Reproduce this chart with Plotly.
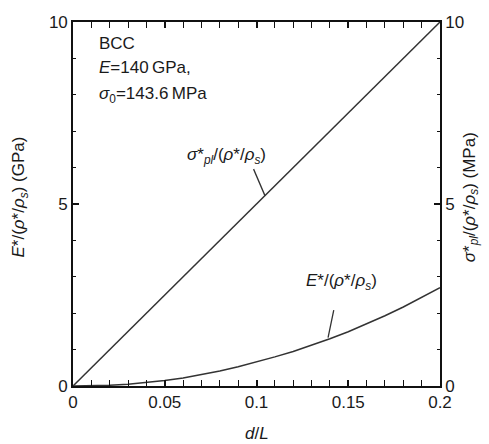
import plotly.graph_objects as go

# relative length of strut
d_over_L = [0.0, 0.01, 0.02, 0.03, 0.04, 0.05, 0.06, 0.07, 0.08, 0.09, 0.10,
            0.11, 0.12, 0.13, 0.14, 0.15, 0.16, 0.17, 0.18, 0.19, 0.20]
# normalised Young's modulus (GPa)
E_norm = [0.0, 0.005, 0.02, 0.05, 0.09, 0.15, 0.22, 0.31, 0.41, 0.53, 0.66,
          0.80, 0.95, 1.12, 1.30, 1.49, 1.70, 1.93, 2.17, 2.43, 2.70]
# normalised plastic collapse strength (MPa)
sigma_x = [0.0, 0.05, 0.10, 0.15, 0.20]
sigma_pl = [0.0, 2.5, 5.0, 7.5, 10.0]

x_tick_step = 0.05
x_minor_step = 0.01
y_tick_step = 5
y_minor_step = 1

FONT = "Arial"
INK = "#1a1a1a"
LINE = "#333333"
AXIS = "#111111"

fig = go.Figure()
fig.add_trace(go.Scatter(x=d_over_L, y=E_norm, mode="lines",
                         line=dict(color=LINE, width=1.5),
                         yaxis="y"))
fig.add_trace(go.Scatter(x=sigma_x, y=sigma_pl, mode="lines",
                         line=dict(color=LINE, width=1.5),
                         yaxis="y2"))


def axis_style(step, minor_step, **extra):
    return dict(tickmode="linear", tick0=0, dtick=step,
                ticks="inside", ticklen=6, tickwidth=1.6, tickcolor=AXIS,
                minor=dict(tickmode="linear", tick0=0, dtick=minor_step,
                           ticks="inside", ticklen=3, tickwidth=1.3, tickcolor=AXIS),
                showline=True, linecolor=AXIS, linewidth=1.6,
                showgrid=False, zeroline=False,
                **extra)


fig.update_layout(
    width=489, height=444,
    margin=dict(l=73, r=49, t=22, b=58),
    paper_bgcolor="white", plot_bgcolor="white",
    showlegend=False,
    font=dict(family=FONT, size=17, color=INK),
    xaxis=axis_style(x_tick_step, x_minor_step, range=[0, 0.2], mirror="allticks"),
    yaxis=axis_style(y_tick_step, y_minor_step, range=[0, 10]),
    yaxis2=axis_style(y_tick_step, y_minor_step, range=[0, 10], overlaying="y",
                      side="right"),
)

annotations = [
    # info block
    dict(x=0.013, y=9.4, xref="x", yref="y", xanchor="left", yanchor="middle",
         text="BCC", showarrow=False),
    dict(x=0.013, y=8.75, xref="x", yref="y", xanchor="left", yanchor="middle",
         text="<i>E</i>=140\u2009GPa,", showarrow=False),
    dict(x=0.013, y=8.0, xref="x", yref="y", xanchor="left", yanchor="middle",
         text="<i>σ</i><sub>0</sub>=143.6\u2009MPa", showarrow=False),
    # curve labels with leaders
    dict(x=0.1046, y=5.23, xref="x", yref="y", ax=-12, ay=-28,
         text="", showarrow=True, arrowhead=0, arrowwidth=1.3, arrowcolor=LINE),
    dict(x=0.0835, y=5.95, xref="x", yref="y", xanchor="center", yanchor="bottom",
         text="<i>σ</i>*<sub><i>pl</i></sub>/(<i>ρ</i>*/<i>ρ</i><sub><i>s</i></sub>)",
         showarrow=False),
    dict(x=0.139, y=1.33, xref="x", yref="y", ax=6, ay=-29,
         text="", showarrow=True, arrowhead=0, arrowwidth=1.3, arrowcolor=LINE),
    dict(x=0.1465, y=2.5, xref="x", yref="y", xanchor="center", yanchor="bottom",
         text="<i>E</i>*/(<i>ρ</i>*/<i>ρ</i><sub><i>s</i></sub>)",
         showarrow=False),
    # axis titles
    dict(x=0.5, y=-0.13, xref="paper", yref="paper", xanchor="center", yanchor="middle",
         text="<i>d</i>/<i>L</i>", showarrow=False),
    dict(x=-0.145, y=0.52, xref="paper", yref="paper", xanchor="center", yanchor="middle",
         textangle=-90, showarrow=False,
         text="<i>E</i>*/(<i>ρ</i>*/<i>ρ</i><sub><i>s</i></sub>) (GPa)"),
    dict(x=1.083, y=0.52, xref="paper", yref="paper", xanchor="center", yanchor="middle",
         textangle=-90, showarrow=False,
         text="<i>σ</i>*<sub><i>pl</i></sub>/(<i>ρ</i>*/<i>ρ</i><sub><i>s</i></sub>) (MPa)"),
]
fig.update_layout(annotations=annotations)

fig.write_html("out.html")
